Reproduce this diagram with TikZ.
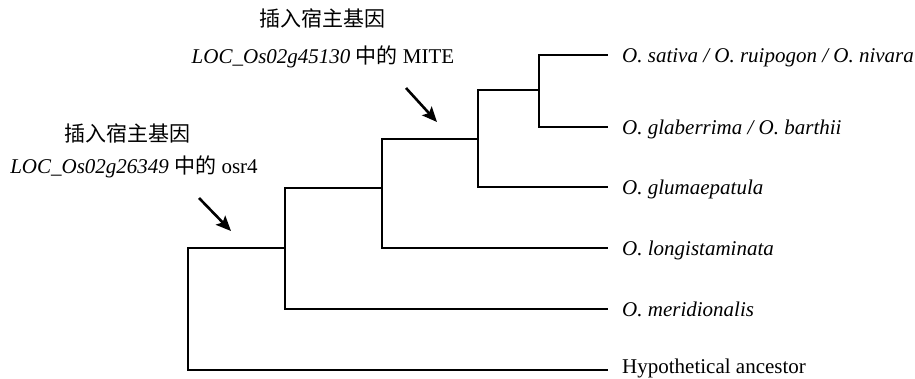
\documentclass[tikz,border=0pt]{standalone}
\usepackage{fontspec}
\setmainfont{Liberation Serif}
\newfontfamily\cjk{Noto Sans CJK SC}
\usetikzlibrary{arrows.meta}
\begin{document}
\begin{tikzpicture}[x=1pt,y=-1pt,
  branch/.style={line width=1.4pt,line cap=rect},
  pointer/.style={line width=2.6pt,-{Stealth[length=15pt,width=13pt,inset=3pt]}},
  leaflab/.style={anchor=base west,inner sep=0pt,font=\fontsize{21}{25}\selectfont\itshape},
  note/.style={anchor=base,inner sep=0pt,font=\fontsize{21}{25}\selectfont}]
\useasboundingbox (0,0) rectangle (915,378);
% tree nodes
\coordinate (r0) at (188,248);
\coordinate (r1) at (188,370);
\coordinate (b0) at (285,248);
\coordinate (b1) at (285,188);
\coordinate (b2) at (285,309);
\coordinate (c0) at (382,188);
\coordinate (c1) at (382,139);
\coordinate (c2) at (382,248);
\coordinate (d0) at (478,139);
\coordinate (d1) at (478,90);
\coordinate (d2) at (478,187);
\coordinate (e0) at (539,90);
\coordinate (e1) at (539,55);
\coordinate (e2) at (539,127);
% leaf ends
\coordinate (l1) at (607,55);
\coordinate (l2) at (607,127);
\coordinate (l3) at (607,187);
\coordinate (l4) at (607,248);
\coordinate (l5) at (607,309);
\coordinate (l6) at (607,370);
% branches
\draw[branch] (r0) -- (r1) -- (l6);
\draw[branch] (r0) -- (b0);
\draw[branch] (b1) -- (b2) -- (l5);
\draw[branch] (b1) -- (c0);
\draw[branch] (c1) -- (c2) -- (l4);
\draw[branch] (c1) -- (d0);
\draw[branch] (d1) -- (d2) -- (l3);
\draw[branch] (d1) -- (e0);
\draw[branch] (l1) -- (e1) -- (e2) -- (l2);
% leaf labels
\node[leaflab] (t1) at (622,62) {O. sativa / O. ruipogon / O. nivara};
\node[leaflab] (t2) at (622,134) {O. glaberrima / O. barthii};
\node[leaflab] (t3) at (622,194) {O. glumaepatula};
\node[leaflab] (t4) at (622,255) {O. longistaminata};
\node[leaflab] (t5) at (622,316) {O. meridionalis};
\node[leaflab,font=\fontsize{21}{25}\selectfont\upshape] (t6) at (622,373.3) {Hypothetical ancestor};
% annotations
\node[note] (n1a) at (322,26) {\cjk 插入宿主基因};
\node[note] (n1b) at (323,63) {\textit{LOC\_Os02g45130} {\cjk 中的} MITE};
\node[note] (n2a) at (127,141) {\cjk 插入宿主基因};
\node[note] (n2b) at (134,173) {\textit{LOC\_Os02g26349} {\cjk 中的} osr4};
% arrows
\coordinate (a1s) at (406,88);
\coordinate (a1e) at (437,122);
\coordinate (a2s) at (199,198);
\coordinate (a2e) at (231,231);
\draw[pointer] (a1s) -- (a1e);
\draw[pointer] (a2s) -- (a2e);
\end{tikzpicture}
\end{document}
